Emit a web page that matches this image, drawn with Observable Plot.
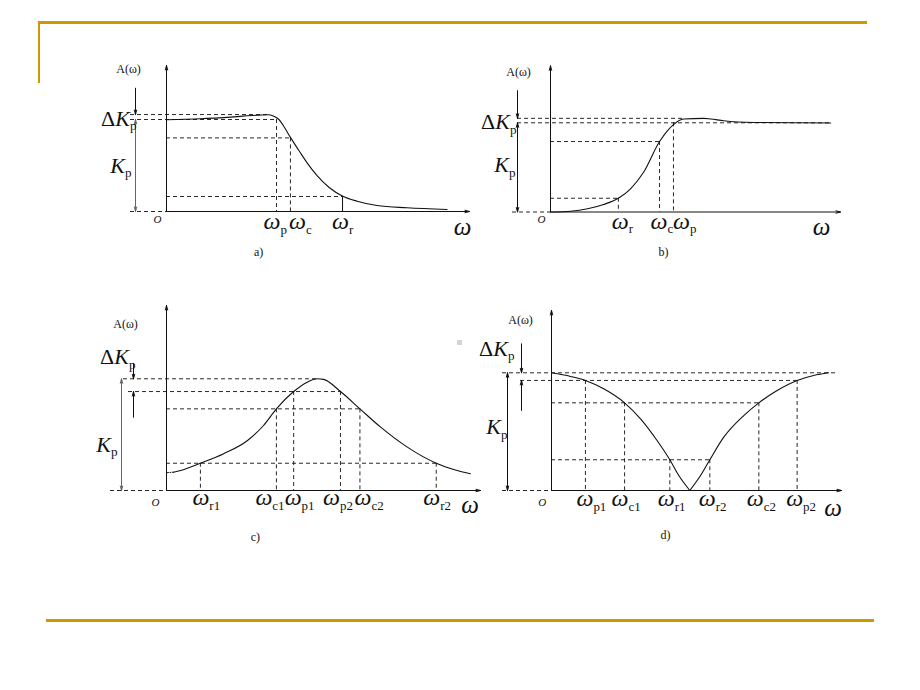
<!DOCTYPE html>
<html>
<head>
<meta charset="utf-8">
<script src="https://cdn.jsdelivr.net/npm/d3@7"></script>
<script src="https://cdn.jsdelivr.net/npm/@observablehq/plot@0.6"></script>
<style>
  html, body { margin: 0; padding: 0; background: #fff; }
  #page { position: relative; width: 920px; height: 690px; overflow: hidden; background: #fff; }
  .rule-gold { position: absolute; background: #cc9900; }
</style>
</head>
<body>
<div id="page">
  <div class="rule-gold" style="left:38px; top:21px; width:829px; height:3px;"></div>
  <div class="rule-gold" style="left:38px; top:21px; width:2px; height:62px;"></div>
  <div class="rule-gold" style="left:46px; top:619px; width:828px; height:3px;"></div>
  <div style="position:absolute; left:457px; top:340px; width:5px; height:5px; background:#d4d4d4;"></div>
</div>
<script>
// ================= DATA =================
// a) low-pass: omega in axis units (0..10), gain with pass level = 1
const aOmega = [0, 1.12, 2.22, 2.99, 3.38, 3.56, 3.71, 3.90, 4.10, 4.37, 4.64, 4.97, 5.36, 5.82, 6.29, 6.95, 7.94, 9.26];
const aGain  = [0.997, 1.008, 1.029, 1.047, 1.051, 1.033, 1.0, 0.91, 0.80, 0.663, 0.529, 0.391, 0.264, 0.166, 0.112, 0.065, 0.040, 0.022];
const aLevels = {ripple: 1.054, pass: 1.0, cut: 0.80, stop: 0.163};
const aTickNames = ["p", "c", "r"];
const aTickOmega = [3.63, 4.09, 5.81];

// b) high-pass
const bOmega = [0, 0.69, 1.28, 1.83, 2.34, 2.76, 3.21, 3.76, 4.03, 4.24, 4.59, 5.28, 5.52, 5.97, 7.0, 9.66];
const bGain  = [0, 0.009, 0.036, 0.084, 0.154, 0.26, 0.445, 0.79, 0.91, 0.98, 1.043, 1.05, 1.043, 1.023, 1.004, 0.998];
const bLevels = {ripple: 1.05, pass: 1.0, cut: 0.79, stop: 0.154};
const bTickNames = ["r", "c", "p"];
const bTickOmega = [2.34, 3.76, 4.24];

// c) band-pass (peak = 1)
const cOmega = [0.22, 0.45, 1.08, 1.82, 2.58, 3.09, 3.50, 4.05, 4.48, 4.80, 5.0, 5.54, 6.16, 6.82, 7.67, 8.59, 9.26, 9.68];
const cGain  = [0.164, 0.179, 0.244, 0.329, 0.448, 0.582, 0.731, 0.886, 0.970, 1.0, 0.995, 0.886, 0.731, 0.567, 0.388, 0.244, 0.179, 0.150];
const cLeadOmega = [0.03, 0.22];
const cLeadGain  = [0.16, 0.164];
const cLevels = {peak: 1.0, pass: 0.886, cut: 0.731, stop: 0.244};
const cTickNames = ["r1", "c1", "p1", "p2", "c2", "r2"];
const cTickOmega = [1.08, 3.50, 4.05, 5.54, 6.16, 8.59];

// d) band-stop (top = 1)
const dOmega = [0, 0.66, 1.17, 1.80, 2.52, 3.07, 3.64, 4.08, 4.39, 4.77, 5.14, 5.46, 5.94, 6.63, 7.15, 7.78, 8.47, 9.04, 9.56];
const dGain  = [1.0, 0.969, 0.935, 0.864, 0.745, 0.609, 0.425, 0.261, 0.127, 0, 0.127, 0.261, 0.453, 0.637, 0.745, 0.85, 0.935, 0.977, 1.0];
const dLevels = {top: 1.0, pass: 0.935, cut: 0.745, stop: 0.261};
const dTickNames = ["p1", "c1", "r1", "r2", "c2", "p2"];
const dTickOmega = [1.17, 2.52, 4.08, 5.46, 7.15, 8.47];

// ================= LAYOUT =================
const FONT = "'Liberation Serif','Times New Roman',serif";
const INK = "#111", GREY = "#666";
const OMEGA_SIZE = 24, OMEGA_HALF = 8;
const LAYOUT = {
  a: {box: {x: 80, y: 45, w: 400, h: 225}, origin: [166, 211], x10: 469, y1: 119, yTop: 1.587,
      shifts: [-5, 6.5, -2.5], yLabel: [-38, 4], dk: [-30, 4], k: [-35, 0], o: [-9, 8], tickDy: 10,
      bigW: [-7, 15], cap: [3.04, 41]},
  b: {box: {x: 466, y: 45, w: 394, h: 225}, origin: [550, 211.5], x10: 840, y1: 122.3, yTop: 1.639,
      shifts: [1.5, -1, 7.5], yLabel: [-32, 6], dk: [-34, 4], k: [-35, -2], o: [-9, 7], tickDy: 9,
      bigW: [-19, 14.5], cap: [3.9, 40.5]},
  c: {box: {x: 80, y: 295, w: 410, h: 265}, origin: [166, 490], x10: 480, y1: 378.3, yTop: 1.656,
      shifts: [0, -13, -1, -9.5, 2.5, -5], yLabel: [-41, 19], dk: [-31, -21.6], k: [-49, 10], o: [-11, 11.7], tickDy: 7,
      bigW: [-10.5, 14], cap: [2.83, 47]},
  d: {box: {x: 466, y: 295, w: 394, h: 265}, origin: [551, 490], x10: 841, y1: 372.3, yTop: 1.53,
      shifts: [-1, -5, -4, -3, -4, -3], yLabel: [-31, 10], dk: [-37, -24], k: [-44, -4.5], o: [-9.3, 11.7], tickDy: 8,
      bigW: [-8.5, 17], cap: [3.93, 45]}
};

// ================= HELPERS =================
const DASH = {stroke: INK, strokeWidth: 0.9, strokeDasharray: "4,3"};
const hDash = rows => Plot.ruleY(rows, {y: "y", x1: "x1", x2: "x2", ...DASH});
const vDash = rows => Plot.ruleX(rows, {x: "x", y1: "y1", y2: "y2", ...DASH});
const arrowMark = (rows, stroke = INK) => Plot.arrow(rows, {x1: "x1", y1: "y1", x2: "x2", y2: "y2", stroke, strokeWidth: 1, headLength: 7, headAngle: 30});
const axes = L => arrowMark([{x1: 0, y1: 0, x2: 0, y2: L.yTop}, {x1: 0, y1: 0, x2: 10, y2: 0}]);
const rowsOf = (ws, gs, z = "s") => ws.map((w, i) => ({w, g: gs[i], z}));
const curveMark = rows => Plot.line(rows, {x: "w", y: "g", z: "z", curve: "monotone-x", stroke: INK, strokeWidth: 1.1});
const ppu = L => (L.x10 - L.origin[0]) / 10;
// horizontal page offset converted to axis units
const off = (L, px) => px / ppu(L);

function textBase(extra) { return {text: d => d, fill: INK, fontFamily: FONT, ...extra}; }

function commonTexts(L, letter, dkY, kY) {
  return [
    Plot.text(["A(ω)"], textBase({x: 0, y: L.yTop, dx: L.yLabel[0], dy: L.yLabel[1], fontSize: 12})),
    Plot.text(["ΔK_p"], textBase({x: 0, y: dkY, dx: L.dk[0], dy: L.dk[1], textAnchor: "end", fontSize: 22, fontStyle: "italic"})),
    Plot.text(["K_p"], textBase({x: 0, y: kY, dx: L.k[0], dy: L.k[1], textAnchor: "end", fontSize: 22, fontStyle: "italic"})),
    Plot.text(["O"], textBase({x: 0, y: 0, dx: L.o[0], dy: L.o[1], fontSize: 11, fontStyle: "italic"})),
    Plot.text(["ω"], textBase({x: 10, y: 0, dx: L.bigW[0], dy: L.bigW[1], fontSize: OMEGA_SIZE + 1, fontStyle: "italic"})),
    Plot.text([letter + ")"], textBase({x: L.cap[0], y: 0, dy: L.cap[1], fontSize: 12}))
  ];
}

function tickLabels(names, omegas, L) {
  const rows = names.map((n, i) => ({x: omegas[i] + off(L, L.shifts[i] - OMEGA_HALF), t: "ω_" + n}));
  return Plot.text(rows, {x: "x", y: 0, text: "t", dy: L.tickDy, textAnchor: "start", fontSize: OMEGA_SIZE,
    fontStyle: "italic", fontFamily: FONT, fill: INK});
}

// turn "ΔK_p" style strings into tspans (upright Δ, subscript after "_")
function richify(svg) {
  const ns = "http://www.w3.org/2000/svg";
  for (const t of svg.querySelectorAll("text")) {
    const s = t.textContent;
    if (!s.includes("_") && !s.includes("Δ")) continue;
    let [base, sub] = s.split("_");
    const ratio = base === "ω" ? "0.54em" : "0.6em";
    while (t.firstChild) t.removeChild(t.firstChild);
    if (base.startsWith("Δ")) {
      const d = document.createElementNS(ns, "tspan");
      d.setAttribute("font-style", "normal");
      d.textContent = "Δ";
      t.appendChild(d);
      base = base.slice(1);
    }
    t.appendChild(document.createTextNode(base));
    if (sub) {
      const sp = document.createElementNS(ns, "tspan");
      sp.setAttribute("font-style", "normal");
      sp.setAttribute("font-size", ratio);
      sp.setAttribute("dy", "0.35em");
      sp.textContent = sub;
      t.appendChild(sp);
    }
  }
}

function buildPanel(L, marks) {
  const {box, origin} = L;
  const svg = Plot.plot({
    width: box.w, height: box.h, margin: 0,
    style: {background: "transparent", overflow: "visible", fontFamily: FONT, color: INK},
    x: {type: "linear", domain: [0, 10], range: [origin[0] - box.x, L.x10 - box.x], axis: null},
    y: {type: "linear", domain: [0, 1], range: [origin[1] - box.y, L.y1 - box.y], axis: null},
    marks
  });
  richify(svg);
  Object.assign(svg.style, {position: "absolute", left: box.x + "px", top: box.y + "px"});
  document.getElementById("page").appendChild(svg);
}

// ================= PANEL a =================
{
  const L = LAYOUT.a, V = aLevels;
  const [wp, wc, wr] = aTickOmega;
  const left = off(L, -36), ax = off(L, -31);
  const peakW = aOmega[aGain.indexOf(d3.max(aGain))];
  buildPanel(L, [
    hDash([{y: V.ripple, x1: left, x2: peakW}, {y: V.pass, x1: left, x2: wp}, {y: V.cut, x1: 0, x2: wc},
           {y: V.stop, x1: 0, x2: wr}, {y: 0, x1: left, x2: 0}]),
    vDash([{x: wp, y1: V.pass, y2: 0}, {x: wc, y1: V.cut, y2: 0}]),
    Plot.ruleX([{x: wr, y1: V.stop, y2: 0}], {x: "x", y1: "y1", y2: "y2", stroke: INK, strokeWidth: 1}),
    axes(L),
    arrowMark([{x1: ax, y1: 1.34, x2: ax, y2: V.ripple}]),
    arrowMark([{x1: ax, y1: V.pass / 2, x2: ax, y2: V.pass}, {x1: ax, y1: V.pass / 2, x2: ax, y2: 0}], GREY),
    curveMark(rowsOf(aOmega, aGain)),
    tickLabels(aTickNames, aTickOmega, L),
    ...commonTexts(L, "a", V.ripple, V.pass / 2)
  ]);
}

// ================= PANEL b =================
{
  const L = LAYOUT.b, V = bLevels;
  const [wr, wc, wp] = bTickOmega;
  const left = off(L, -33), baseLeft = off(L, -38), ax = off(L, -33);
  const flatW = bOmega[bGain.findIndex(g => g >= V.ripple - 0.01)];
  buildPanel(L, [
    hDash([{y: V.ripple, x1: left, x2: flatW}, {y: V.pass, x1: left, x2: d3.max(bOmega)}, {y: V.cut, x1: 0, x2: wc},
           {y: V.stop, x1: 0, x2: wr}, {y: 0, x1: baseLeft, x2: 0}]),
    vDash([{x: wr, y1: V.stop, y2: 0}, {x: wc, y1: V.cut, y2: 0}, {x: wp, y1: V.pass, y2: 0}]),
    axes(L),
    arrowMark([{x1: ax, y1: 1.36, x2: ax, y2: V.ripple}]),
    arrowMark([{x1: ax, y1: V.pass / 2, x2: ax, y2: V.pass}, {x1: ax, y1: V.pass / 2, x2: ax, y2: 0}]),
    curveMark(rowsOf(bOmega, bGain)),
    tickLabels(bTickNames, bTickOmega, L),
    ...commonTexts(L, "b", V.ripple, V.pass / 2)
  ]);
}

// ================= PANEL c =================
{
  const L = LAYOUT.c, V = cLevels;
  const [wr1, wc1, wp1, wp2, wc2, wr2] = cTickOmega;
  const peakW = cOmega[cGain.indexOf(d3.max(cGain))];
  const kx = off(L, -45), dx = off(L, -33);
  buildPanel(L, [
    hDash([{y: V.peak, x1: off(L, -43), x2: peakW}, {y: V.pass, x1: off(L, -38), x2: wp2}, {y: V.cut, x1: 0, x2: wc2},
           {y: V.stop, x1: 0, x2: wr2}, {y: 0, x1: off(L, -56), x2: 0}]),
    vDash([{x: wr1, y1: V.stop, y2: 0}, {x: wr2, y1: V.stop, y2: 0}, {x: wc1, y1: V.cut, y2: 0},
           {x: wc2, y1: V.cut, y2: 0}, {x: wp1, y1: V.pass, y2: 0}, {x: wp2, y1: V.pass, y2: 0}]),
    axes(L),
    arrowMark([{x1: dx, y1: 1.137, x2: dx, y2: V.peak}, {x1: dx, y1: 0.656, x2: dx, y2: V.pass}]),
    arrowMark([{x1: kx, y1: V.peak / 2, x2: kx, y2: V.peak}, {x1: kx, y1: V.peak / 2, x2: kx, y2: 0}], GREY),
    Plot.line(rowsOf(cLeadOmega, cLeadGain), {x: "w", y: "g", stroke: INK, strokeWidth: 1, strokeDasharray: "1,1.5"}),
    curveMark(rowsOf(cOmega, cGain)),
    tickLabels(cTickNames, cTickOmega, L),
    ...commonTexts(L, "c", V.peak, V.peak / 2)
  ]);
}

// ================= PANEL d =================
{
  const L = LAYOUT.d, V = dLevels;
  const [wp1, wc1, wr1, wr2, wc2, wp2] = dTickOmega;
  const k = dGain.indexOf(d3.min(dGain));
  const leftBranch = rowsOf(dOmega.slice(0, k + 1), dGain.slice(0, k + 1), "L");
  const rightBranch = rowsOf(dOmega.slice(k), dGain.slice(k), "R");
  const kx = off(L, -44), dx = off(L, -30);
  buildPanel(L, [
    hDash([{y: V.top, x1: off(L, -49), x2: off(L, 286)}, {y: V.pass, x1: off(L, -31), x2: wp2}, {y: V.cut, x1: 0, x2: wc2},
           {y: V.stop, x1: 0, x2: wr2}, {y: 0, x1: off(L, -49), x2: 0}]),
    vDash([{x: wp1, y1: V.pass, y2: 0}, {x: wp2, y1: V.pass, y2: 0}, {x: wc1, y1: V.cut, y2: 0},
           {x: wc2, y1: V.cut, y2: 0}, {x: wr1, y1: V.stop, y2: 0}, {x: wr2, y1: V.stop, y2: 0}]),
    axes(L),
    arrowMark([{x1: dx, y1: 1.246, x2: dx, y2: V.top}, {x1: dx, y1: 0.68, x2: dx, y2: V.pass}]),
    arrowMark([{x1: kx, y1: V.top / 2, x2: kx, y2: V.top}, {x1: kx, y1: V.top / 2, x2: kx, y2: 0}]),
    curveMark([...leftBranch, ...rightBranch]),
    tickLabels(dTickNames, dTickOmega, L),
    ...commonTexts(L, "d", V.top, V.top / 2)
  ]);
}
</script>
</body>
</html>
